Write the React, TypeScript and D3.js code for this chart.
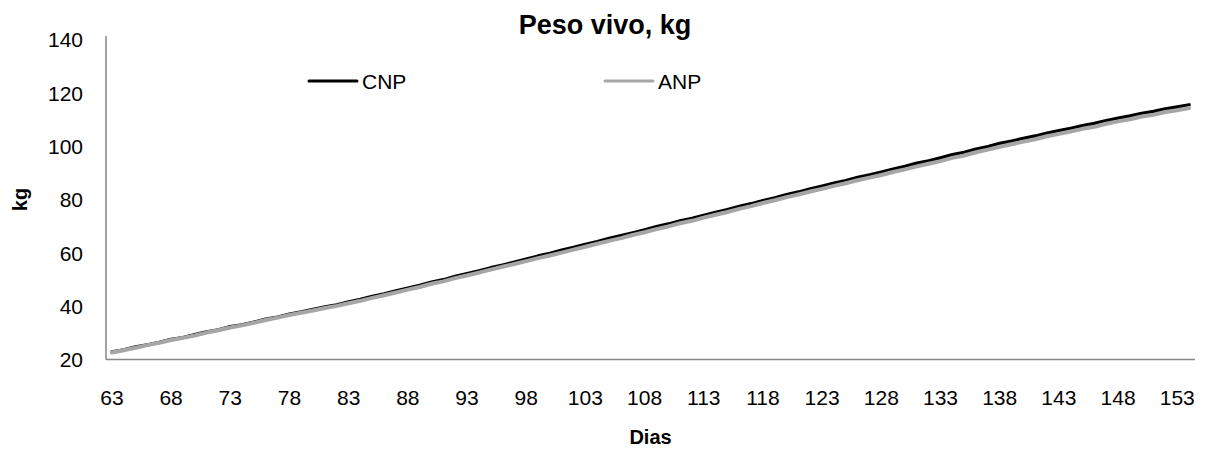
import React from "react";
import * as d3 from "d3";

const days: number[] = d3.range(63, 155);

const cnp: number[] = [
  22.8, 23.6, 24.7, 25.5, 26.4, 27.5, 28.2, 29.3, 30.3, 31.1,
  32.3, 33.0, 34.0, 35.1, 35.9, 37.0, 37.8, 38.8, 39.7, 40.5,
  41.6, 42.5, 43.7, 44.6, 45.7, 46.8, 47.8, 49.0, 49.9, 51.2,
  52.2, 53.2, 54.4, 55.4, 56.5, 57.6, 58.8, 59.8, 61.0, 62.0,
  63.2, 64.2, 65.4, 66.4, 67.5, 68.6, 69.8, 70.8, 72.0, 72.9,
  74.0, 75.2, 76.2, 77.4, 78.4, 79.6, 80.6, 81.8, 82.8, 84.0,
  85.0, 86.1, 87.1, 88.3, 89.2, 90.3, 91.4, 92.4, 93.6, 94.5,
  95.6, 96.8, 97.7, 98.9, 99.8, 101.0, 101.9, 102.9, 103.8, 104.9,
  105.8, 106.7, 107.7, 108.5, 109.6, 110.5, 111.3, 112.3, 113.0, 114.0,
  114.7, 115.5,
];

const anp: number[] = [
  22.6, 23.5, 24.4, 25.4, 26.3, 27.3, 28.1, 29.0, 30.1, 31.0,
  32.0, 32.8, 33.8, 34.8, 35.7, 36.7, 37.5, 38.4, 39.3, 40.1,
  41.1, 42.0, 43.1, 44.1, 45.1, 46.2, 47.2, 48.4, 49.3, 50.5,
  51.5, 52.6, 53.7, 54.8, 55.8, 56.9, 58.0, 59.0, 60.1, 61.2,
  62.3, 63.4, 64.5, 65.5, 66.7, 67.7, 68.9, 69.9, 71.1, 72.0,
  73.2, 74.3, 75.3, 76.5, 77.5, 78.7, 79.7, 80.9, 81.9, 83.0,
  84.0, 85.1, 86.1, 87.2, 88.2, 89.2, 90.3, 91.3, 92.4, 93.4,
  94.4, 95.6, 96.5, 97.7, 98.7, 99.8, 100.7, 101.7, 102.6, 103.7,
  104.6, 105.5, 106.5, 107.3, 108.4, 109.3, 110.1, 111.1, 111.8, 112.8,
  113.5, 114.3,
];

const yTicks: number[] = [20, 40, 60, 80, 100, 120, 140];
const xTickLabels: number[] = d3.range(63, 155, 5);
const seriesNames: string[] = ["CNP", "ANP"];
const seriesColors: string[] = ["#000000", "#a6a6a6"];

const W = 1210;
const H = 452;
const FONT = "'Liberation Sans', Arial, sans-serif";

export default function App() {
  const left = 106;
  const right = 1195;
  const top = 39.5;
  const bottom = 359.5;

  const x = d3.scalePoint<number>().domain(days).range([left, right]).padding(0.5);
  const y = d3.scaleLinear().domain([20, 140]).range([bottom, top]);

  const line = d3
    .line<number>()
    .x((_, i) => x(days[i]) as number)
    .y((d) => y(d));

  const series = [cnp, anp];

  return (
    <svg
      width={W}
      height={H}
      style={{ position: "absolute", left: 0, top: 0, background: "#fff" }}
      fontFamily={FONT}
    >
      <rect x={0} y={0} width={W} height={H} fill="#fff" />
      <text x={605} y={34} textAnchor="middle" fontSize={27} fontWeight="bold" fill="#000">
        Peso vivo, kg
      </text>

      {/* axes */}
      <line x1={left} y1={36} x2={left} y2={bottom} stroke="#868686" strokeWidth={1.5} />
      <line x1={left} y1={bottom} x2={right} y2={bottom} stroke="#868686" strokeWidth={1.5} />

      {yTicks.map((t) => (
        <text key={t} x={83} y={y(t) + 7.7} textAnchor="end" fontSize={21} fill="#000">
          {t}
        </text>
      ))}
      {xTickLabels.map((t) => (
        <text key={t} x={x(t) as number} y={404.5} textAnchor="middle" fontSize={21} fill="#000">
          {t}
        </text>
      ))}

      <text
        transform={`translate(27,${(top + bottom) / 2}) rotate(-90)`}
        textAnchor="middle"
        fontSize={20}
        fontWeight="bold"
        fill="#000"
      >
        kg
      </text>
      <text x={(left + right) / 2} y={444} textAnchor="middle" fontSize={20} fontWeight="bold" fill="#000">
        Dias
      </text>

      {series.map((s, i) => (
        <path
          key={seriesNames[i]}
          d={line(s) || ""}
          fill="none"
          stroke={seriesColors[i]}
          strokeWidth={i === 0 ? 3.4 : 4}
          strokeLinejoin="round"
          strokeLinecap="round"
        />
      ))}

      {/* legend */}
      {seriesNames.map((n, i) => {
        const lx = i === 0 ? 309 : 605;
        return (
          <g key={n}>
            <line x1={lx} y1={81} x2={lx + 48} y2={81} stroke={seriesColors[i]} strokeWidth={3} strokeLinecap="round" />
            <text x={lx + 53} y={88.5} fontSize={21} fill="#000">
              {n}
            </text>
          </g>
        );
      })}
    </svg>
  );
}
